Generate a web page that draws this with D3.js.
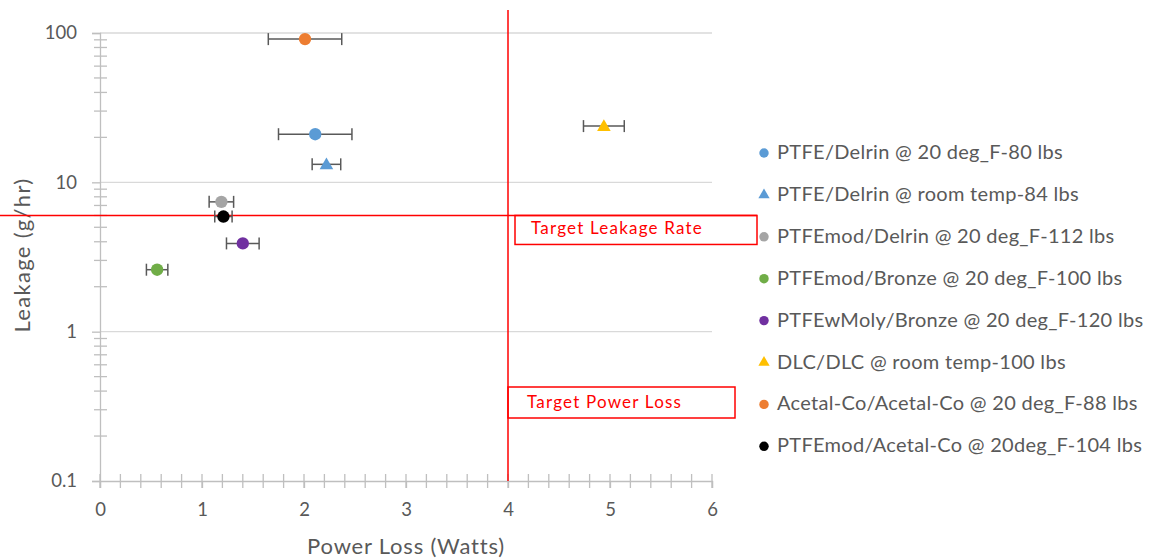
<!DOCTYPE html>
<html>
<head>
<meta charset="utf-8">
<script src="https://cdn.jsdelivr.net/npm/d3@7"></script>
<style>
  html, body { margin: 0; padding: 0; background: #fff; }
  svg { display: block; font-family: Lato, "Open Sans", sans-serif; }
</style>
</head>
<body>
<svg id="chart" width="1158" height="559"></svg>
<script>
// Seal pairs tested: leakage rate vs. power loss, with power-loss spread
const seriesNames = [
  "PTFE/Delrin @ 20 deg_F-80 lbs",
  "PTFE/Delrin @ room temp-84 lbs",
  "PTFEmod/Delrin @ 20 deg_F-112 lbs",
  "PTFEmod/Bronze @ 20 deg_F-100 lbs",
  "PTFEwMoly/Bronze @ 20 deg_F-120 lbs",
  "DLC/DLC @ room temp-100 lbs",
  "Acetal-Co/Acetal-Co @ 20 deg_F-88 lbs",
  "PTFEmod/Acetal-Co @ 20deg_F-104 lbs"
];
const powerLoss = [2.11, 2.22, 1.19, 0.56, 1.40, 4.94, 2.01, 1.21];
const leakage   = [21, 13.2, 7.4, 2.6, 3.9, 23.8, 91, 5.9];
const powerErr  = [0.36, 0.14, 0.12, 0.105, 0.16, 0.2, 0.36, 0.085];
const markerShape = ["circle", "triangle", "circle", "circle", "circle", "triangle", "circle", "circle"];
const seriesColors = ["#5b9bd5", "#5b9bd5", "#a5a5a5", "#70ad47", "#7030a0", "#ffc000", "#ed7d31", "#000000"];

const xTicks = [0, 1, 2, 3, 4, 5, 6];
const yTicks = [0.1, 1, 10, 100];
const yTickLabels = ["0.1", "1", "10", "100"];

const targetPowerLoss = 4;
const targetLeakage = 6;

const svg = d3.select("#chart");
const plot = { left: 100, right: 712, top: 33, bottom: 481 };

const x = d3.scaleLinear().domain([0, 6]).range([plot.left, plot.right]);
const y = d3.scaleLog().domain([0.1, 100]).range([plot.bottom, plot.top]);

const axisGray = "#bfbfbf";
const gridGray = "#d9d9d9";
const textGray = "#595959";

// horizontal gridlines at each decade
svg.append("g").selectAll("line")
  .data(yTicks.filter(d => d > 0.1))
  .join("line")
  .attr("x1", plot.left).attr("x2", plot.right)
  .attr("y1", d => y(d)).attr("y2", d => y(d))
  .attr("stroke", gridGray).attr("stroke-width", 1.3);

// y axis: major ticks outward, minor ticks crossing the line
const yAxis = svg.append("g").attr("transform", `translate(${plot.left},0)`)
  .call(d3.axisLeft(y).tickValues(yTicks).tickFormat((d, i) => yTickLabels[i]).tickSize(8).tickPadding(15));
const yMinor = [];
[0.1, 1, 10].forEach(dec => { for (let k = 2; k <= 9; k++) yMinor.push(dec * k); });
svg.append("g").selectAll("line").data(yMinor).join("line")
  .attr("x1", plot.left - 6).attr("x2", plot.left + 7)
  .attr("y1", d => y(d)).attr("y2", d => y(d))
  .attr("stroke", axisGray).attr("stroke-width", 1.3);

// x axis at the bottom of the log range, ticks crossing every 0.2 W
const xAxis = svg.append("g").attr("transform", `translate(0,${plot.bottom})`)
  .call(d3.axisBottom(x).tickValues(xTicks).tickFormat(d3.format("d")).tickSize(7).tickPadding(15));
const xMinor = d3.range(0, 31).map(i => i * 0.2);
svg.append("g").selectAll("line").data(xMinor).join("line")
  .attr("x1", d => x(d)).attr("x2", d => x(d))
  .attr("y1", plot.bottom - 7).attr("y2", plot.bottom + 7)
  .attr("stroke", axisGray).attr("stroke-width", 1.3);

[xAxis, yAxis].forEach(a => {
  a.select(".domain").attr("stroke", axisGray).attr("stroke-width", 1.3);
  a.selectAll(".tick line").attr("stroke", axisGray).attr("stroke-width", 1.3);
  a.selectAll(".tick text").attr("fill", textGray).attr("font-size", 18.5)
    .attr("font-family", "Lato, sans-serif");
});

// axis titles
svg.append("text")
  .attr("x", x(3)).attr("y", 554)
  .attr("text-anchor", "middle").attr("fill", textGray).attr("font-size", 22)
  .attr("letter-spacing", 0.8)
  .text("Power Loss (Watts)");
svg.append("text")
  .attr("transform", `translate(30,255) rotate(-90)`)
  .attr("text-anchor", "middle").attr("fill", textGray).attr("font-size", 22)
  .attr("letter-spacing", 1.3)
  .text("Leakage (g/hr)");

// target lines and their labels
const red = "#ff0000";
svg.append("line")
  .attr("x1", x(targetPowerLoss)).attr("x2", x(targetPowerLoss))
  .attr("y1", 10).attr("y2", y(0.1))
  .attr("stroke", red).attr("stroke-width", 1.5);
svg.append("line")
  .attr("x1", 0).attr("x2", 757)
  .attr("y1", y(targetLeakage)).attr("y2", y(targetLeakage))
  .attr("stroke", red).attr("stroke-width", 1.5);

const leakBox = { x: 515, y: y(targetLeakage), w: 242, h: 29 };
svg.append("rect")
  .attr("x", leakBox.x).attr("y", leakBox.y).attr("width", leakBox.w).attr("height", leakBox.h)
  .attr("fill", "none").attr("stroke", red).attr("stroke-width", 1.5);
svg.append("text")
  .attr("x", 531).attr("y", leakBox.y + 19)
  .attr("fill", red).attr("font-size", 17).attr("letter-spacing", 1.2)
  .text("Target Leakage Rate");

const powerBox = { x: x(targetPowerLoss), y: 387, w: 227, h: 31 };
svg.append("rect")
  .attr("x", powerBox.x).attr("y", powerBox.y).attr("width", powerBox.w).attr("height", powerBox.h)
  .attr("fill", "none").attr("stroke", red).attr("stroke-width", 1.5);
svg.append("text")
  .attr("x", 527).attr("y", powerBox.y + 21)
  .attr("fill", red).attr("font-size", 17).attr("letter-spacing", 1.2)
  .text("Target Power Loss");

// data: horizontal error bars then markers
const data = seriesNames.map((name, i) => ({
  name, px: powerLoss[i], ly: leakage[i], err: powerErr[i], shape: markerShape[i], color: seriesColors[i]
}));

const triangle = d3.symbol().type(d3.symbolTriangle);
const circle = d3.symbol().type(d3.symbolCircle);

const pts = svg.append("g").selectAll("g").data(data).join("g");
pts.each(function(d) {
  const g = d3.select(this);
  const cy = y(d.ly);
  const x0 = x(d.px - d.err), x1 = x(d.px + d.err);
  g.append("line").attr("x1", x0).attr("x2", x1).attr("y1", cy).attr("y2", cy)
    .attr("stroke", "#595959").attr("stroke-width", 1.5);
  [x0, x1].forEach(xx => g.append("line")
    .attr("x1", xx).attr("x2", xx).attr("y1", cy - 6).attr("y2", cy + 6)
    .attr("stroke", "#595959").attr("stroke-width", 1.5));
  g.append("path")
    .attr("transform", `translate(${x(d.px)},${cy + (d.shape === "triangle" ? 1 : 0)})`)
    .attr("d", (d.shape === "triangle" ? triangle.size(80) : circle.size(120))())
    .attr("fill", d.color);
});

// legend
const legend = svg.append("g").attr("transform", "translate(764,152)");
const rows = legend.selectAll("g").data(data).join("g")
  .attr("transform", (d, i) => `translate(0,${i * 41.9})`);
rows.append("path")
  .attr("d", d => (d.shape === "triangle" ? triangle.size(55) : circle.size(70))())
  .attr("transform", "translate(0,1)")
  .attr("fill", d => d.color);
rows.append("text")
  .attr("x", 13).attr("y", 7)
  .attr("fill", textGray).attr("font-size", 20).attr("letter-spacing", 0.3)
  .text(d => d.name);
</script>
</body>
</html>
